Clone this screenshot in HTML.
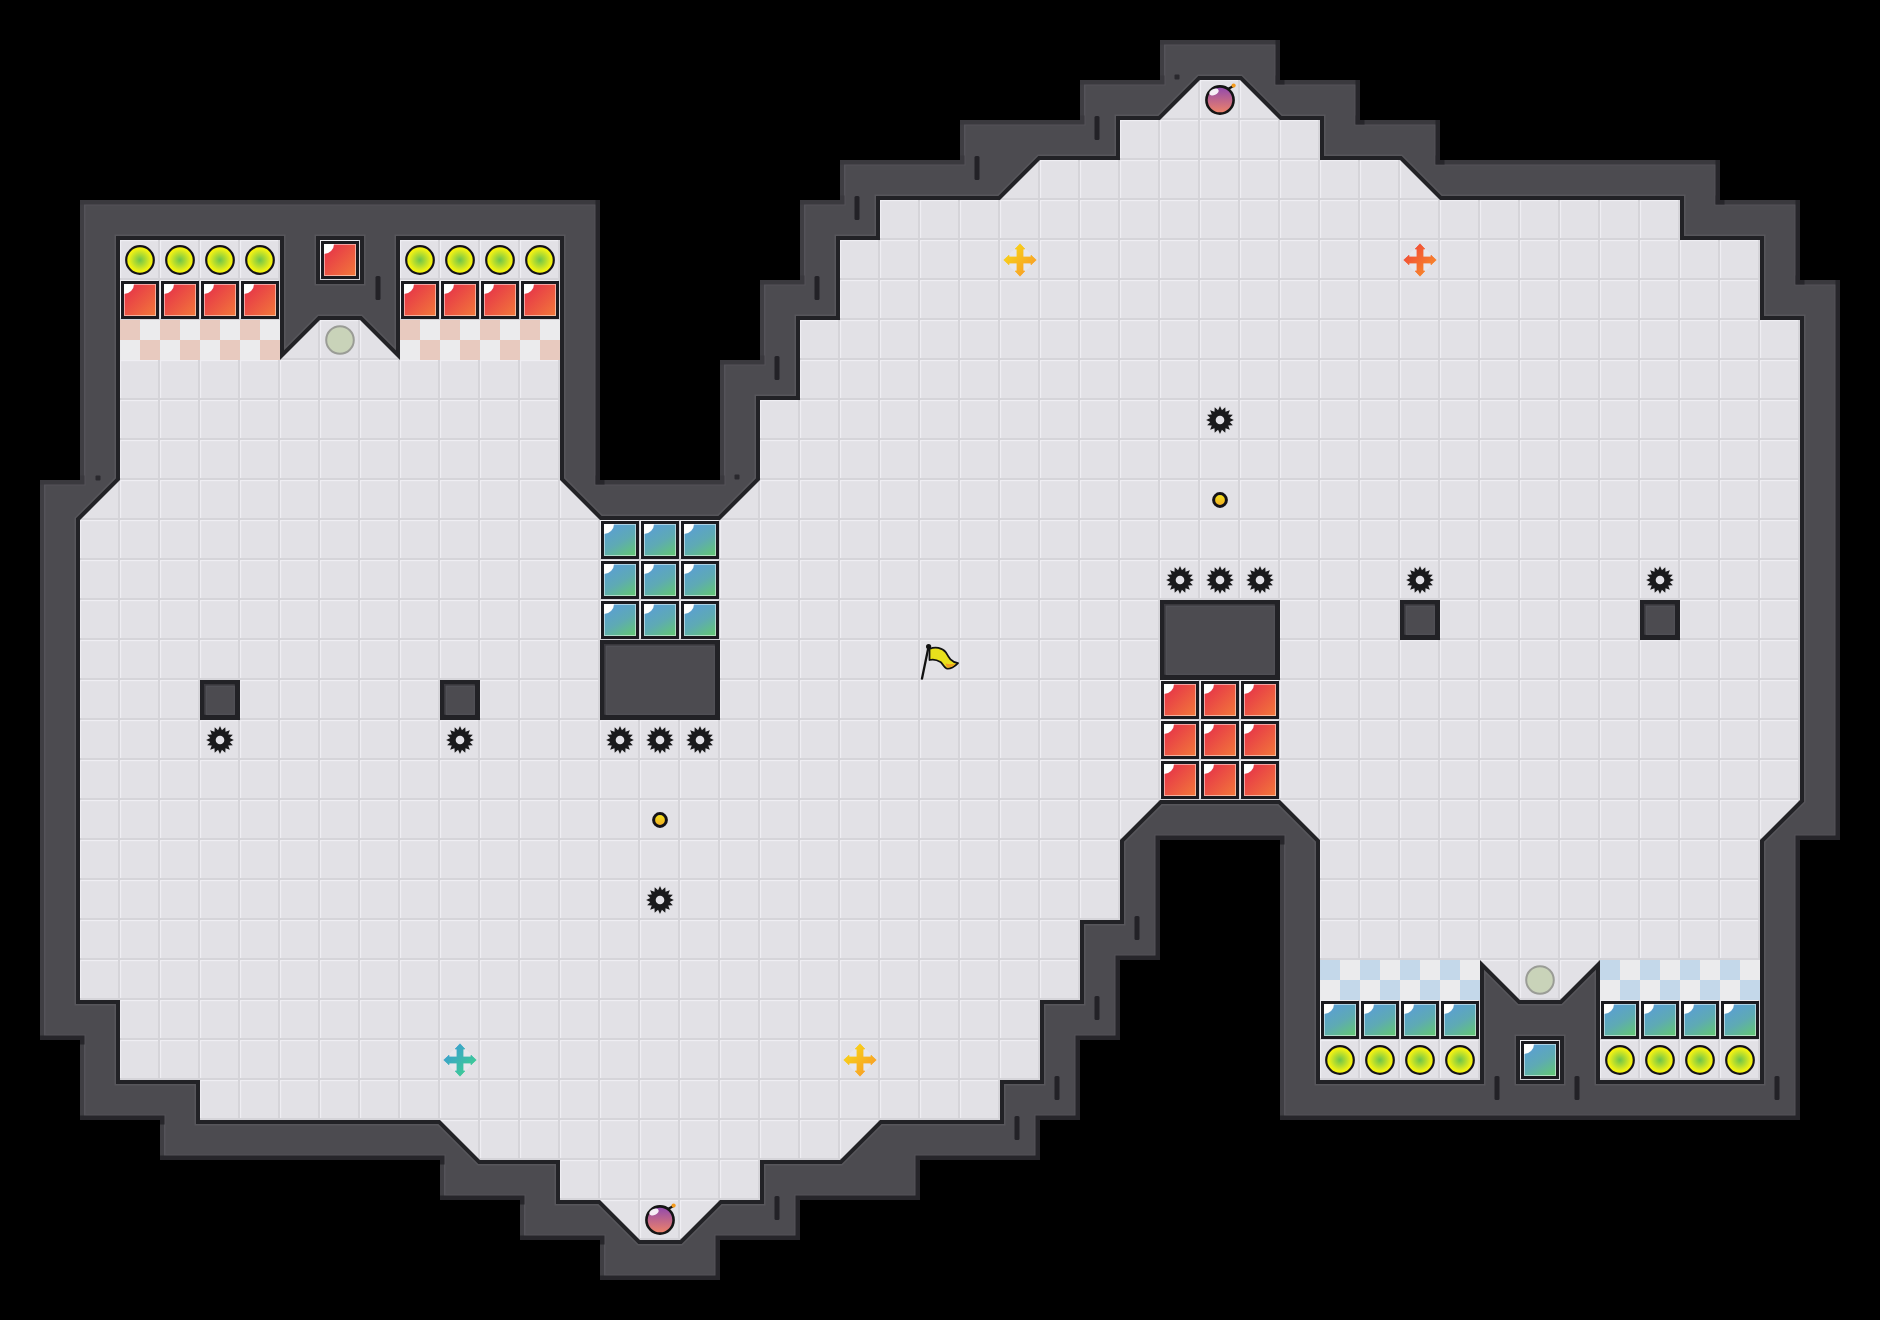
<!DOCTYPE html>
<html><head><meta charset="utf-8"><style>
html,body{margin:0;padding:0;background:#000;overflow:hidden}
svg{display:block}
</style></head><body>
<svg width="1880" height="1320" viewBox="0 0 1880 1320">
<defs>
<pattern id="tile" x="0" y="0" width="40" height="40" patternUnits="userSpaceOnUse">
<rect width="40" height="40" fill="#e2e1e6"/>
<rect x="0" y="0" width="40" height="1.2" fill="#efeef3"/>
<rect x="0" y="0" width="1.2" height="40" fill="#efeef3"/>
<rect x="0" y="38" width="40" height="2" fill="#d5d4d9"/>
<rect x="38" y="0" width="2" height="40" fill="#d5d4d9"/>
</pattern>
<clipPath id="wallclip"><path d="M80,200 L600,200 L600,480 L720,480 L720,360 L760,360 L760,280 L800,280 L800,200 L840,200 L840,160 L960,160 L960,120 L1080,120 L1080,80 L1160,80 L1160,40 L1280,40 L1280,80 L1360,80 L1360,120 L1440,120 L1440,160 L1720,160 L1720,200 L1800,200 L1800,280 L1840,280 L1840,840 L1800,840 L1800,1120 L1280,1120 L1280,840 L1160,840 L1160,960 L1120,960 L1120,1040 L1080,1040 L1080,1120 L1040,1120 L1040,1160 L920,1160 L920,1200 L800,1200 L800,1240 L720,1240 L720,1280 L600,1280 L600,1240 L520,1240 L520,1200 L440,1200 L440,1160 L160,1160 L160,1120 L80,1120 L80,1040 L40,1040 L40,480 L80,480 Z"/></clipPath>
<linearGradient id="gred" x1="0" y1="0" x2="1" y2="1">
<stop offset="0" stop-color="#e52c4a"/><stop offset="1" stop-color="#f2793a"/>
</linearGradient>
<linearGradient id="gblue" x1="0.2" y1="0" x2="0.8" y2="1">
<stop offset="0" stop-color="#5a9ed6"/><stop offset="0.55" stop-color="#5eaab4"/><stop offset="1" stop-color="#62c47a"/>
</linearGradient>
<radialGradient id="gball" cx="0.5" cy="0.5" r="0.5">
<stop offset="0" stop-color="#6cc44c"/><stop offset="0.8" stop-color="#eef016"/><stop offset="1" stop-color="#f6f600"/>
</radialGradient>
<linearGradient id="gbomb" x1="0" y1="0" x2="0" y2="1">
<stop offset="0" stop-color="#8f48b0"/><stop offset="1" stop-color="#f08466"/>
</linearGradient>
<linearGradient id="gcoin" x1="0" y1="0" x2="0" y2="1">
<stop offset="0" stop-color="#f2e51a"/><stop offset="1" stop-color="#f2a828"/>
</linearGradient>
<linearGradient id="gyel" x1="0" y1="0" x2="1" y2="1">
<stop offset="0" stop-color="#f8d81a"/><stop offset="1" stop-color="#f89a1c"/>
</linearGradient>
<linearGradient id="gorg" x1="0" y1="0" x2="1" y2="1">
<stop offset="0" stop-color="#ec5a48"/><stop offset="1" stop-color="#f68a2a"/>
</linearGradient>
<linearGradient id="gteal" x1="0" y1="0" x2="1" y2="1">
<stop offset="0" stop-color="#3a9ad8"/><stop offset="1" stop-color="#40d08a"/>
</linearGradient>
</defs>
<rect width="1880" height="1320" fill="#000"/>
<path d="M80,200 L600,200 L600,480 L720,480 L720,360 L760,360 L760,280 L800,280 L800,200 L840,200 L840,160 L960,160 L960,120 L1080,120 L1080,80 L1160,80 L1160,40 L1280,40 L1280,80 L1360,80 L1360,120 L1440,120 L1440,160 L1720,160 L1720,200 L1800,200 L1800,280 L1840,280 L1840,840 L1800,840 L1800,1120 L1280,1120 L1280,840 L1160,840 L1160,960 L1120,960 L1120,1040 L1080,1040 L1080,1120 L1040,1120 L1040,1160 L920,1160 L920,1200 L800,1200 L800,1240 L720,1240 L720,1280 L600,1280 L600,1240 L520,1240 L520,1200 L440,1200 L440,1160 L160,1160 L160,1120 L80,1120 L80,1040 L40,1040 L40,480 L80,480 Z" fill="#4c4b50"/>
<g clip-path="url(#wallclip)">
<path d="M80,200 L600,200 L600,480 L720,480 L720,360 L760,360 L760,280 L800,280 L800,200 L840,200 L840,160 L960,160 L960,120 L1080,120 L1080,80 L1160,80 L1160,40 L1280,40 L1280,80 L1360,80 L1360,120 L1440,120 L1440,160 L1720,160 L1720,200 L1800,200 L1800,280 L1840,280 L1840,840 L1800,840 L1800,1120 L1280,1120 L1280,840 L1160,840 L1160,960 L1120,960 L1120,1040 L1080,1040 L1080,1120 L1040,1120 L1040,1160 L920,1160 L920,1200 L800,1200 L800,1240 L720,1240 L720,1280 L600,1280 L600,1240 L520,1240 L520,1200 L440,1200 L440,1160 L160,1160 L160,1120 L80,1120 L80,1040 L40,1040 L40,480 L80,480 Z" fill="none" stroke="#545359" stroke-width="11"/>

<path d="M720,480 L720,360 M760,360 L760,280 M800,280 L800,200 M840,200 L840,160 M960,160 L960,120 M1080,120 L1080,80 M1160,80 L1160,40 M1280,1120 L1280,840 M600,1280 L600,1240 M520,1240 L520,1200 M440,1200 L440,1160 M160,1160 L160,1120 M80,1120 L80,1040 M40,1040 L40,480 M80,480 L80,200" fill="none" stroke="#3f3e43" stroke-width="8" stroke-linecap="square"/>
<path d="M80,200 L600,200 M600,480 L720,480 M720,360 L760,360 M760,280 L800,280 M800,200 L840,200 M840,160 L960,160 M960,120 L1080,120 M1080,80 L1160,80 M1160,40 L1280,40 M1280,80 L1360,80 M1360,120 L1440,120 M1440,160 L1720,160 M1720,200 L1800,200 M1800,280 L1840,280 M40,480 L80,480" fill="none" stroke="#3a393e" stroke-width="9" stroke-linecap="square"/>
<path d="M600,200 L600,480 M1280,40 L1280,80 M1360,80 L1360,120 M1440,120 L1440,160 M1720,160 L1720,200 M1800,200 L1800,280 M1840,280 L1840,840 M1840,840 L1800,840 M1800,840 L1800,1120 M1800,1120 L1280,1120 M1280,840 L1160,840 M1160,840 L1160,960 M1160,960 L1120,960 M1120,960 L1120,1040 M1120,1040 L1080,1040 M1080,1040 L1080,1120 M1080,1120 L1040,1120 M1040,1120 L1040,1160 M1040,1160 L920,1160 M920,1160 L920,1200 M920,1200 L800,1200 M800,1200 L800,1240 M800,1240 L720,1240 M720,1240 L720,1280 M720,1280 L600,1280 M600,1240 L520,1240 M520,1200 L440,1200 M440,1160 L160,1160 M160,1120 L80,1120 M80,1040 L40,1040" fill="none" stroke="#27262b" stroke-width="9" stroke-linecap="square"/>
</g>
<path d="M120,240 L280,240 L280,360 L320,320 L360,320 L400,360 L400,240 L560,240 L560,480 L600,520 L720,520 L760,480 L760,400 L800,400 L800,320 L840,320 L840,240 L880,240 L880,200 L1000,200 L1040,160 L1120,160 L1120,120 L1160,120 L1200,80 L1240,80 L1280,120 L1320,120 L1320,160 L1400,160 L1440,200 L1680,200 L1680,240 L1760,240 L1760,320 L1800,320 L1800,800 L1760,840 L1760,1080 L1600,1080 L1600,960 L1560,1000 L1520,1000 L1480,960 L1480,1080 L1320,1080 L1320,840 L1280,800 L1160,800 L1120,840 L1120,920 L1080,920 L1080,1000 L1040,1000 L1040,1080 L1000,1080 L1000,1120 L880,1120 L840,1160 L760,1160 L760,1200 L720,1200 L680,1240 L640,1240 L600,1200 L560,1200 L560,1160 L480,1160 L440,1120 L200,1120 L200,1080 L120,1080 L120,1000 L80,1000 L80,520 L120,480 Z M320,240 L360,240 L360,280 L320,280 Z M1520,1040 L1560,1040 L1560,1080 L1520,1080 Z M200,680 L240,680 L240,720 L200,720 Z M440,680 L480,680 L480,720 L440,720 Z M600,640 L720,640 L720,720 L600,720 Z M1160,600 L1280,600 L1280,680 L1160,680 Z M1400,600 L1440,600 L1440,640 L1400,640 Z M1640,600 L1680,600 L1680,640 L1640,640 Z" fill="none" stroke="#57565b" stroke-width="11" stroke-linejoin="miter"/>
<path d="M120,240 L280,240 L280,360 L320,320 L360,320 L400,360 L400,240 L560,240 L560,480 L600,520 L720,520 L760,480 L760,400 L800,400 L800,320 L840,320 L840,240 L880,240 L880,200 L1000,200 L1040,160 L1120,160 L1120,120 L1160,120 L1200,80 L1240,80 L1280,120 L1320,120 L1320,160 L1400,160 L1440,200 L1680,200 L1680,240 L1760,240 L1760,320 L1800,320 L1800,800 L1760,840 L1760,1080 L1600,1080 L1600,960 L1560,1000 L1520,1000 L1480,960 L1480,1080 L1320,1080 L1320,840 L1280,800 L1160,800 L1120,840 L1120,920 L1080,920 L1080,1000 L1040,1000 L1040,1080 L1000,1080 L1000,1120 L880,1120 L840,1160 L760,1160 L760,1200 L720,1200 L680,1240 L640,1240 L600,1200 L560,1200 L560,1160 L480,1160 L440,1120 L200,1120 L200,1080 L120,1080 L120,1000 L80,1000 L80,520 L120,480 Z M320,240 L360,240 L360,280 L320,280 Z M1520,1040 L1560,1040 L1560,1080 L1520,1080 Z M200,680 L240,680 L240,720 L200,720 Z M440,680 L480,680 L480,720 L440,720 Z M600,640 L720,640 L720,720 L600,720 Z M1160,600 L1280,600 L1280,680 L1160,680 Z M1400,600 L1440,600 L1440,640 L1400,640 Z M1640,600 L1680,600 L1680,640 L1640,640 Z" fill="none" stroke="#222226" stroke-width="8" stroke-linejoin="miter"/>
<path d="M120,240 L280,240 L280,360 L320,320 L360,320 L400,360 L400,240 L560,240 L560,480 L600,520 L720,520 L760,480 L760,400 L800,400 L800,320 L840,320 L840,240 L880,240 L880,200 L1000,200 L1040,160 L1120,160 L1120,120 L1160,120 L1200,80 L1240,80 L1280,120 L1320,120 L1320,160 L1400,160 L1440,200 L1680,200 L1680,240 L1760,240 L1760,320 L1800,320 L1800,800 L1760,840 L1760,1080 L1600,1080 L1600,960 L1560,1000 L1520,1000 L1480,960 L1480,1080 L1320,1080 L1320,840 L1280,800 L1160,800 L1120,840 L1120,920 L1080,920 L1080,1000 L1040,1000 L1040,1080 L1000,1080 L1000,1120 L880,1120 L840,1160 L760,1160 L760,1200 L720,1200 L680,1240 L640,1240 L600,1200 L560,1200 L560,1160 L480,1160 L440,1120 L200,1120 L200,1080 L120,1080 L120,1000 L80,1000 L80,520 L120,480 Z M320,240 L360,240 L360,280 L320,280 Z M1520,1040 L1560,1040 L1560,1080 L1520,1080 Z M200,680 L240,680 L240,720 L200,720 Z M440,680 L480,680 L480,720 L440,720 Z M600,640 L720,640 L720,720 L600,720 Z M1160,600 L1280,600 L1280,680 L1160,680 Z M1400,600 L1440,600 L1440,640 L1400,640 Z M1640,600 L1680,600 L1680,640 L1640,640 Z" fill="url(#tile)" fill-rule="evenodd"/>
<rect x="204" y="684" width="32" height="1.8" fill="#38373c"/>
<rect x="204" y="684" width="1.8" height="32" fill="#38373c"/>
<rect x="234.8" y="684" width="1.2" height="32" fill="#222126"/>
<rect x="204" y="714.8" width="32" height="1.2" fill="#222126"/>
<rect x="206.3" y="686.3" width="28" height="28" fill="none" stroke="#525157" stroke-width="1.2"/>
<rect x="444" y="684" width="32" height="1.8" fill="#38373c"/>
<rect x="444" y="684" width="1.8" height="32" fill="#38373c"/>
<rect x="474.8" y="684" width="1.2" height="32" fill="#222126"/>
<rect x="444" y="714.8" width="32" height="1.2" fill="#222126"/>
<rect x="446.3" y="686.3" width="28" height="28" fill="none" stroke="#525157" stroke-width="1.2"/>
<rect x="604" y="644" width="112" height="1.8" fill="#38373c"/>
<rect x="604" y="644" width="1.8" height="72" fill="#38373c"/>
<rect x="714.8" y="644" width="1.2" height="72" fill="#222126"/>
<rect x="604" y="714.8" width="112" height="1.2" fill="#222126"/>
<rect x="606.3" y="646.3" width="108" height="68" fill="none" stroke="#525157" stroke-width="1.2"/>
<rect x="1164" y="604" width="112" height="1.8" fill="#38373c"/>
<rect x="1164" y="604" width="1.8" height="72" fill="#38373c"/>
<rect x="1274.8" y="604" width="1.2" height="72" fill="#222126"/>
<rect x="1164" y="674.8" width="112" height="1.2" fill="#222126"/>
<rect x="1166.3" y="606.3" width="108" height="68" fill="none" stroke="#525157" stroke-width="1.2"/>
<rect x="1404" y="604" width="32" height="1.8" fill="#38373c"/>
<rect x="1404" y="604" width="1.8" height="32" fill="#38373c"/>
<rect x="1434.8" y="604" width="1.2" height="32" fill="#222126"/>
<rect x="1404" y="634.8" width="32" height="1.2" fill="#222126"/>
<rect x="1406.3" y="606.3" width="28" height="28" fill="none" stroke="#525157" stroke-width="1.2"/>
<rect x="1644" y="604" width="32" height="1.8" fill="#38373c"/>
<rect x="1644" y="604" width="1.8" height="32" fill="#38373c"/>
<rect x="1674.8" y="604" width="1.2" height="32" fill="#222126"/>
<rect x="1644" y="634.8" width="32" height="1.2" fill="#222126"/>
<rect x="1646.3" y="606.3" width="28" height="28" fill="none" stroke="#525157" stroke-width="1.2"/>
<rect x="120" y="320" width="20" height="20" fill="#e8cabf"/><rect x="120" y="340" width="20" height="20" fill="#ebebed"/><rect x="140" y="320" width="20" height="20" fill="#ebebed"/><rect x="140" y="340" width="20" height="20" fill="#e8cabf"/><rect x="160" y="320" width="20" height="20" fill="#e8cabf"/><rect x="160" y="340" width="20" height="20" fill="#ebebed"/><rect x="180" y="320" width="20" height="20" fill="#ebebed"/><rect x="180" y="340" width="20" height="20" fill="#e8cabf"/><rect x="200" y="320" width="20" height="20" fill="#e8cabf"/><rect x="200" y="340" width="20" height="20" fill="#ebebed"/><rect x="220" y="320" width="20" height="20" fill="#ebebed"/><rect x="220" y="340" width="20" height="20" fill="#e8cabf"/><rect x="240" y="320" width="20" height="20" fill="#e8cabf"/><rect x="240" y="340" width="20" height="20" fill="#ebebed"/><rect x="260" y="320" width="20" height="20" fill="#ebebed"/><rect x="260" y="340" width="20" height="20" fill="#e8cabf"/>
<rect x="400" y="320" width="20" height="20" fill="#e8cabf"/><rect x="400" y="340" width="20" height="20" fill="#ebebed"/><rect x="420" y="320" width="20" height="20" fill="#ebebed"/><rect x="420" y="340" width="20" height="20" fill="#e8cabf"/><rect x="440" y="320" width="20" height="20" fill="#e8cabf"/><rect x="440" y="340" width="20" height="20" fill="#ebebed"/><rect x="460" y="320" width="20" height="20" fill="#ebebed"/><rect x="460" y="340" width="20" height="20" fill="#e8cabf"/><rect x="480" y="320" width="20" height="20" fill="#e8cabf"/><rect x="480" y="340" width="20" height="20" fill="#ebebed"/><rect x="500" y="320" width="20" height="20" fill="#ebebed"/><rect x="500" y="340" width="20" height="20" fill="#e8cabf"/><rect x="520" y="320" width="20" height="20" fill="#e8cabf"/><rect x="520" y="340" width="20" height="20" fill="#ebebed"/><rect x="540" y="320" width="20" height="20" fill="#ebebed"/><rect x="540" y="340" width="20" height="20" fill="#e8cabf"/>
<rect x="1320" y="960" width="20" height="20" fill="#c4d8ea"/><rect x="1320" y="980" width="20" height="20" fill="#ebebed"/><rect x="1340" y="960" width="20" height="20" fill="#ebebed"/><rect x="1340" y="980" width="20" height="20" fill="#c4d8ea"/><rect x="1360" y="960" width="20" height="20" fill="#c4d8ea"/><rect x="1360" y="980" width="20" height="20" fill="#ebebed"/><rect x="1380" y="960" width="20" height="20" fill="#ebebed"/><rect x="1380" y="980" width="20" height="20" fill="#c4d8ea"/><rect x="1400" y="960" width="20" height="20" fill="#c4d8ea"/><rect x="1400" y="980" width="20" height="20" fill="#ebebed"/><rect x="1420" y="960" width="20" height="20" fill="#ebebed"/><rect x="1420" y="980" width="20" height="20" fill="#c4d8ea"/><rect x="1440" y="960" width="20" height="20" fill="#c4d8ea"/><rect x="1440" y="980" width="20" height="20" fill="#ebebed"/><rect x="1460" y="960" width="20" height="20" fill="#ebebed"/><rect x="1460" y="980" width="20" height="20" fill="#c4d8ea"/>
<rect x="1600" y="960" width="20" height="20" fill="#c4d8ea"/><rect x="1600" y="980" width="20" height="20" fill="#ebebed"/><rect x="1620" y="960" width="20" height="20" fill="#ebebed"/><rect x="1620" y="980" width="20" height="20" fill="#c4d8ea"/><rect x="1640" y="960" width="20" height="20" fill="#c4d8ea"/><rect x="1640" y="980" width="20" height="20" fill="#ebebed"/><rect x="1660" y="960" width="20" height="20" fill="#ebebed"/><rect x="1660" y="980" width="20" height="20" fill="#c4d8ea"/><rect x="1680" y="960" width="20" height="20" fill="#c4d8ea"/><rect x="1680" y="980" width="20" height="20" fill="#ebebed"/><rect x="1700" y="960" width="20" height="20" fill="#ebebed"/><rect x="1700" y="980" width="20" height="20" fill="#c4d8ea"/><rect x="1720" y="960" width="20" height="20" fill="#c4d8ea"/><rect x="1720" y="980" width="20" height="20" fill="#ebebed"/><rect x="1740" y="960" width="20" height="20" fill="#ebebed"/><rect x="1740" y="980" width="20" height="20" fill="#c4d8ea"/>
<rect x="375.5" y="276" width="5" height="24" rx="1.5" fill="#232227"/>
<rect x="854.5" y="196" width="5" height="24" rx="1.5" fill="#232227"/>
<rect x="814.5" y="276" width="5" height="24" rx="1.5" fill="#232227"/>
<rect x="774.5" y="356" width="5" height="24" rx="1.5" fill="#232227"/>
<rect x="974.5" y="156" width="5" height="24" rx="1.5" fill="#232227"/>
<rect x="1094.5" y="116" width="5" height="24" rx="1.5" fill="#232227"/>
<rect x="1134.5" y="916" width="5" height="24" rx="1.5" fill="#232227"/>
<rect x="1094.5" y="996" width="5" height="24" rx="1.5" fill="#232227"/>
<rect x="1054.5" y="1076" width="5" height="24" rx="1.5" fill="#232227"/>
<rect x="1014.5" y="1116" width="5" height="24" rx="1.5" fill="#232227"/>
<rect x="774.5" y="1196" width="5" height="24" rx="1.5" fill="#232227"/>
<rect x="1494.5" y="1076" width="5" height="24" rx="1.5" fill="#232227"/>
<rect x="1574.5" y="1076" width="5" height="24" rx="1.5" fill="#232227"/>
<rect x="1774.5" y="1076" width="5" height="24" rx="1.5" fill="#232227"/>
<rect x="95.5" y="475.5" width="5" height="5" rx="1" fill="#2a292e"/>
<rect x="734.5" y="474.5" width="5" height="5" rx="1" fill="#2a292e"/>
<rect x="1174.5" y="74.5" width="5" height="5" rx="1" fill="#2a292e"/>
<rect x="121" y="281" width="38" height="38" fill="#1b1a1f"/><rect x="124" y="284" width="32" height="32" fill="url(#gred)"/><path d="M124,284 h10 a10,10 0 0 1 -10,10 z" fill="#fff"/><rect x="124.5" y="284.5" width="31" height="31" fill="none" stroke="#fff" stroke-opacity="0.5" stroke-width="1"/>
<rect x="161" y="281" width="38" height="38" fill="#1b1a1f"/><rect x="164" y="284" width="32" height="32" fill="url(#gred)"/><path d="M164,284 h10 a10,10 0 0 1 -10,10 z" fill="#fff"/><rect x="164.5" y="284.5" width="31" height="31" fill="none" stroke="#fff" stroke-opacity="0.5" stroke-width="1"/>
<rect x="201" y="281" width="38" height="38" fill="#1b1a1f"/><rect x="204" y="284" width="32" height="32" fill="url(#gred)"/><path d="M204,284 h10 a10,10 0 0 1 -10,10 z" fill="#fff"/><rect x="204.5" y="284.5" width="31" height="31" fill="none" stroke="#fff" stroke-opacity="0.5" stroke-width="1"/>
<rect x="241" y="281" width="38" height="38" fill="#1b1a1f"/><rect x="244" y="284" width="32" height="32" fill="url(#gred)"/><path d="M244,284 h10 a10,10 0 0 1 -10,10 z" fill="#fff"/><rect x="244.5" y="284.5" width="31" height="31" fill="none" stroke="#fff" stroke-opacity="0.5" stroke-width="1"/>
<rect x="401" y="281" width="38" height="38" fill="#1b1a1f"/><rect x="404" y="284" width="32" height="32" fill="url(#gred)"/><path d="M404,284 h10 a10,10 0 0 1 -10,10 z" fill="#fff"/><rect x="404.5" y="284.5" width="31" height="31" fill="none" stroke="#fff" stroke-opacity="0.5" stroke-width="1"/>
<rect x="441" y="281" width="38" height="38" fill="#1b1a1f"/><rect x="444" y="284" width="32" height="32" fill="url(#gred)"/><path d="M444,284 h10 a10,10 0 0 1 -10,10 z" fill="#fff"/><rect x="444.5" y="284.5" width="31" height="31" fill="none" stroke="#fff" stroke-opacity="0.5" stroke-width="1"/>
<rect x="481" y="281" width="38" height="38" fill="#1b1a1f"/><rect x="484" y="284" width="32" height="32" fill="url(#gred)"/><path d="M484,284 h10 a10,10 0 0 1 -10,10 z" fill="#fff"/><rect x="484.5" y="284.5" width="31" height="31" fill="none" stroke="#fff" stroke-opacity="0.5" stroke-width="1"/>
<rect x="521" y="281" width="38" height="38" fill="#1b1a1f"/><rect x="524" y="284" width="32" height="32" fill="url(#gred)"/><path d="M524,284 h10 a10,10 0 0 1 -10,10 z" fill="#fff"/><rect x="524.5" y="284.5" width="31" height="31" fill="none" stroke="#fff" stroke-opacity="0.5" stroke-width="1"/>
<rect x="321" y="241" width="38" height="38" fill="#1b1a1f"/><rect x="324" y="244" width="32" height="32" fill="url(#gred)"/><path d="M324,244 h10 a10,10 0 0 1 -10,10 z" fill="#fff"/><rect x="324.5" y="244.5" width="31" height="31" fill="none" stroke="#fff" stroke-opacity="0.5" stroke-width="1"/>
<rect x="1161" y="681" width="38" height="38" fill="#1b1a1f"/><rect x="1164" y="684" width="32" height="32" fill="url(#gred)"/><path d="M1164,684 h10 a10,10 0 0 1 -10,10 z" fill="#fff"/><rect x="1164.5" y="684.5" width="31" height="31" fill="none" stroke="#fff" stroke-opacity="0.5" stroke-width="1"/>
<rect x="1161" y="721" width="38" height="38" fill="#1b1a1f"/><rect x="1164" y="724" width="32" height="32" fill="url(#gred)"/><path d="M1164,724 h10 a10,10 0 0 1 -10,10 z" fill="#fff"/><rect x="1164.5" y="724.5" width="31" height="31" fill="none" stroke="#fff" stroke-opacity="0.5" stroke-width="1"/>
<rect x="1161" y="761" width="38" height="38" fill="#1b1a1f"/><rect x="1164" y="764" width="32" height="32" fill="url(#gred)"/><path d="M1164,764 h10 a10,10 0 0 1 -10,10 z" fill="#fff"/><rect x="1164.5" y="764.5" width="31" height="31" fill="none" stroke="#fff" stroke-opacity="0.5" stroke-width="1"/>
<rect x="1201" y="681" width="38" height="38" fill="#1b1a1f"/><rect x="1204" y="684" width="32" height="32" fill="url(#gred)"/><path d="M1204,684 h10 a10,10 0 0 1 -10,10 z" fill="#fff"/><rect x="1204.5" y="684.5" width="31" height="31" fill="none" stroke="#fff" stroke-opacity="0.5" stroke-width="1"/>
<rect x="1201" y="721" width="38" height="38" fill="#1b1a1f"/><rect x="1204" y="724" width="32" height="32" fill="url(#gred)"/><path d="M1204,724 h10 a10,10 0 0 1 -10,10 z" fill="#fff"/><rect x="1204.5" y="724.5" width="31" height="31" fill="none" stroke="#fff" stroke-opacity="0.5" stroke-width="1"/>
<rect x="1201" y="761" width="38" height="38" fill="#1b1a1f"/><rect x="1204" y="764" width="32" height="32" fill="url(#gred)"/><path d="M1204,764 h10 a10,10 0 0 1 -10,10 z" fill="#fff"/><rect x="1204.5" y="764.5" width="31" height="31" fill="none" stroke="#fff" stroke-opacity="0.5" stroke-width="1"/>
<rect x="1241" y="681" width="38" height="38" fill="#1b1a1f"/><rect x="1244" y="684" width="32" height="32" fill="url(#gred)"/><path d="M1244,684 h10 a10,10 0 0 1 -10,10 z" fill="#fff"/><rect x="1244.5" y="684.5" width="31" height="31" fill="none" stroke="#fff" stroke-opacity="0.5" stroke-width="1"/>
<rect x="1241" y="721" width="38" height="38" fill="#1b1a1f"/><rect x="1244" y="724" width="32" height="32" fill="url(#gred)"/><path d="M1244,724 h10 a10,10 0 0 1 -10,10 z" fill="#fff"/><rect x="1244.5" y="724.5" width="31" height="31" fill="none" stroke="#fff" stroke-opacity="0.5" stroke-width="1"/>
<rect x="1241" y="761" width="38" height="38" fill="#1b1a1f"/><rect x="1244" y="764" width="32" height="32" fill="url(#gred)"/><path d="M1244,764 h10 a10,10 0 0 1 -10,10 z" fill="#fff"/><rect x="1244.5" y="764.5" width="31" height="31" fill="none" stroke="#fff" stroke-opacity="0.5" stroke-width="1"/>
<rect x="601" y="521" width="38" height="38" fill="#1b1a1f"/><rect x="604" y="524" width="32" height="32" fill="url(#gblue)"/><path d="M604,524 h10 a10,10 0 0 1 -10,10 z" fill="#fff"/><rect x="604.5" y="524.5" width="31" height="31" fill="none" stroke="#fff" stroke-opacity="0.5" stroke-width="1"/>
<rect x="601" y="561" width="38" height="38" fill="#1b1a1f"/><rect x="604" y="564" width="32" height="32" fill="url(#gblue)"/><path d="M604,564 h10 a10,10 0 0 1 -10,10 z" fill="#fff"/><rect x="604.5" y="564.5" width="31" height="31" fill="none" stroke="#fff" stroke-opacity="0.5" stroke-width="1"/>
<rect x="601" y="601" width="38" height="38" fill="#1b1a1f"/><rect x="604" y="604" width="32" height="32" fill="url(#gblue)"/><path d="M604,604 h10 a10,10 0 0 1 -10,10 z" fill="#fff"/><rect x="604.5" y="604.5" width="31" height="31" fill="none" stroke="#fff" stroke-opacity="0.5" stroke-width="1"/>
<rect x="641" y="521" width="38" height="38" fill="#1b1a1f"/><rect x="644" y="524" width="32" height="32" fill="url(#gblue)"/><path d="M644,524 h10 a10,10 0 0 1 -10,10 z" fill="#fff"/><rect x="644.5" y="524.5" width="31" height="31" fill="none" stroke="#fff" stroke-opacity="0.5" stroke-width="1"/>
<rect x="641" y="561" width="38" height="38" fill="#1b1a1f"/><rect x="644" y="564" width="32" height="32" fill="url(#gblue)"/><path d="M644,564 h10 a10,10 0 0 1 -10,10 z" fill="#fff"/><rect x="644.5" y="564.5" width="31" height="31" fill="none" stroke="#fff" stroke-opacity="0.5" stroke-width="1"/>
<rect x="641" y="601" width="38" height="38" fill="#1b1a1f"/><rect x="644" y="604" width="32" height="32" fill="url(#gblue)"/><path d="M644,604 h10 a10,10 0 0 1 -10,10 z" fill="#fff"/><rect x="644.5" y="604.5" width="31" height="31" fill="none" stroke="#fff" stroke-opacity="0.5" stroke-width="1"/>
<rect x="681" y="521" width="38" height="38" fill="#1b1a1f"/><rect x="684" y="524" width="32" height="32" fill="url(#gblue)"/><path d="M684,524 h10 a10,10 0 0 1 -10,10 z" fill="#fff"/><rect x="684.5" y="524.5" width="31" height="31" fill="none" stroke="#fff" stroke-opacity="0.5" stroke-width="1"/>
<rect x="681" y="561" width="38" height="38" fill="#1b1a1f"/><rect x="684" y="564" width="32" height="32" fill="url(#gblue)"/><path d="M684,564 h10 a10,10 0 0 1 -10,10 z" fill="#fff"/><rect x="684.5" y="564.5" width="31" height="31" fill="none" stroke="#fff" stroke-opacity="0.5" stroke-width="1"/>
<rect x="681" y="601" width="38" height="38" fill="#1b1a1f"/><rect x="684" y="604" width="32" height="32" fill="url(#gblue)"/><path d="M684,604 h10 a10,10 0 0 1 -10,10 z" fill="#fff"/><rect x="684.5" y="604.5" width="31" height="31" fill="none" stroke="#fff" stroke-opacity="0.5" stroke-width="1"/>
<rect x="1321" y="1001" width="38" height="38" fill="#1b1a1f"/><rect x="1324" y="1004" width="32" height="32" fill="url(#gblue)"/><path d="M1324,1004 h10 a10,10 0 0 1 -10,10 z" fill="#fff"/><rect x="1324.5" y="1004.5" width="31" height="31" fill="none" stroke="#fff" stroke-opacity="0.5" stroke-width="1"/>
<rect x="1361" y="1001" width="38" height="38" fill="#1b1a1f"/><rect x="1364" y="1004" width="32" height="32" fill="url(#gblue)"/><path d="M1364,1004 h10 a10,10 0 0 1 -10,10 z" fill="#fff"/><rect x="1364.5" y="1004.5" width="31" height="31" fill="none" stroke="#fff" stroke-opacity="0.5" stroke-width="1"/>
<rect x="1401" y="1001" width="38" height="38" fill="#1b1a1f"/><rect x="1404" y="1004" width="32" height="32" fill="url(#gblue)"/><path d="M1404,1004 h10 a10,10 0 0 1 -10,10 z" fill="#fff"/><rect x="1404.5" y="1004.5" width="31" height="31" fill="none" stroke="#fff" stroke-opacity="0.5" stroke-width="1"/>
<rect x="1441" y="1001" width="38" height="38" fill="#1b1a1f"/><rect x="1444" y="1004" width="32" height="32" fill="url(#gblue)"/><path d="M1444,1004 h10 a10,10 0 0 1 -10,10 z" fill="#fff"/><rect x="1444.5" y="1004.5" width="31" height="31" fill="none" stroke="#fff" stroke-opacity="0.5" stroke-width="1"/>
<rect x="1601" y="1001" width="38" height="38" fill="#1b1a1f"/><rect x="1604" y="1004" width="32" height="32" fill="url(#gblue)"/><path d="M1604,1004 h10 a10,10 0 0 1 -10,10 z" fill="#fff"/><rect x="1604.5" y="1004.5" width="31" height="31" fill="none" stroke="#fff" stroke-opacity="0.5" stroke-width="1"/>
<rect x="1641" y="1001" width="38" height="38" fill="#1b1a1f"/><rect x="1644" y="1004" width="32" height="32" fill="url(#gblue)"/><path d="M1644,1004 h10 a10,10 0 0 1 -10,10 z" fill="#fff"/><rect x="1644.5" y="1004.5" width="31" height="31" fill="none" stroke="#fff" stroke-opacity="0.5" stroke-width="1"/>
<rect x="1681" y="1001" width="38" height="38" fill="#1b1a1f"/><rect x="1684" y="1004" width="32" height="32" fill="url(#gblue)"/><path d="M1684,1004 h10 a10,10 0 0 1 -10,10 z" fill="#fff"/><rect x="1684.5" y="1004.5" width="31" height="31" fill="none" stroke="#fff" stroke-opacity="0.5" stroke-width="1"/>
<rect x="1721" y="1001" width="38" height="38" fill="#1b1a1f"/><rect x="1724" y="1004" width="32" height="32" fill="url(#gblue)"/><path d="M1724,1004 h10 a10,10 0 0 1 -10,10 z" fill="#fff"/><rect x="1724.5" y="1004.5" width="31" height="31" fill="none" stroke="#fff" stroke-opacity="0.5" stroke-width="1"/>
<rect x="1521" y="1041" width="38" height="38" fill="#1b1a1f"/><rect x="1524" y="1044" width="32" height="32" fill="url(#gblue)"/><path d="M1524,1044 h10 a10,10 0 0 1 -10,10 z" fill="#fff"/><rect x="1524.5" y="1044.5" width="31" height="31" fill="none" stroke="#fff" stroke-opacity="0.5" stroke-width="1"/>
<circle cx="140" cy="260" r="13.8" fill="url(#gball)" stroke="#141218" stroke-width="2.2"/>
<circle cx="180" cy="260" r="13.8" fill="url(#gball)" stroke="#141218" stroke-width="2.2"/>
<circle cx="220" cy="260" r="13.8" fill="url(#gball)" stroke="#141218" stroke-width="2.2"/>
<circle cx="260" cy="260" r="13.8" fill="url(#gball)" stroke="#141218" stroke-width="2.2"/>
<circle cx="420" cy="260" r="13.8" fill="url(#gball)" stroke="#141218" stroke-width="2.2"/>
<circle cx="460" cy="260" r="13.8" fill="url(#gball)" stroke="#141218" stroke-width="2.2"/>
<circle cx="500" cy="260" r="13.8" fill="url(#gball)" stroke="#141218" stroke-width="2.2"/>
<circle cx="540" cy="260" r="13.8" fill="url(#gball)" stroke="#141218" stroke-width="2.2"/>
<circle cx="1340" cy="1060" r="13.8" fill="url(#gball)" stroke="#141218" stroke-width="2.2"/>
<circle cx="1380" cy="1060" r="13.8" fill="url(#gball)" stroke="#141218" stroke-width="2.2"/>
<circle cx="1420" cy="1060" r="13.8" fill="url(#gball)" stroke="#141218" stroke-width="2.2"/>
<circle cx="1460" cy="1060" r="13.8" fill="url(#gball)" stroke="#141218" stroke-width="2.2"/>
<circle cx="1620" cy="1060" r="13.8" fill="url(#gball)" stroke="#141218" stroke-width="2.2"/>
<circle cx="1660" cy="1060" r="13.8" fill="url(#gball)" stroke="#141218" stroke-width="2.2"/>
<circle cx="1700" cy="1060" r="13.8" fill="url(#gball)" stroke="#141218" stroke-width="2.2"/>
<circle cx="1740" cy="1060" r="13.8" fill="url(#gball)" stroke="#141218" stroke-width="2.2"/>
<circle cx="340" cy="340" r="13.8" fill="#c9d3b9" stroke="#9a9c96" stroke-width="2"/>
<circle cx="1540" cy="980" r="13.8" fill="#c9d3b9" stroke="#9a9c96" stroke-width="2"/>
<path d="M1220.00,406.10 L1221.93,410.29 L1225.32,407.16 L1225.50,411.77 L1229.83,410.17 L1228.23,414.50 L1232.84,414.68 L1229.71,418.07 L1233.90,420.00 L1229.71,421.93 L1232.84,425.32 L1228.23,425.50 L1229.83,429.83 L1225.50,428.23 L1225.32,432.84 L1221.93,429.71 L1220.00,433.90 L1218.07,429.71 L1214.68,432.84 L1214.50,428.23 L1210.17,429.83 L1211.77,425.50 L1207.16,425.32 L1210.29,421.93 L1206.10,420.00 L1210.29,418.07 L1207.16,414.68 L1211.77,414.50 L1210.17,410.17 L1214.50,411.77 L1214.68,407.16 L1218.07,410.29 Z" fill="#1a1a1c"/><circle cx="1220" cy="420" r="4.3" fill="#e2e1e6"/>
<path d="M1180.00,566.10 L1181.93,570.29 L1185.32,567.16 L1185.50,571.77 L1189.83,570.17 L1188.23,574.50 L1192.84,574.68 L1189.71,578.07 L1193.90,580.00 L1189.71,581.93 L1192.84,585.32 L1188.23,585.50 L1189.83,589.83 L1185.50,588.23 L1185.32,592.84 L1181.93,589.71 L1180.00,593.90 L1178.07,589.71 L1174.68,592.84 L1174.50,588.23 L1170.17,589.83 L1171.77,585.50 L1167.16,585.32 L1170.29,581.93 L1166.10,580.00 L1170.29,578.07 L1167.16,574.68 L1171.77,574.50 L1170.17,570.17 L1174.50,571.77 L1174.68,567.16 L1178.07,570.29 Z" fill="#1a1a1c"/><circle cx="1180" cy="580" r="4.3" fill="#e2e1e6"/>
<path d="M1220.00,566.10 L1221.93,570.29 L1225.32,567.16 L1225.50,571.77 L1229.83,570.17 L1228.23,574.50 L1232.84,574.68 L1229.71,578.07 L1233.90,580.00 L1229.71,581.93 L1232.84,585.32 L1228.23,585.50 L1229.83,589.83 L1225.50,588.23 L1225.32,592.84 L1221.93,589.71 L1220.00,593.90 L1218.07,589.71 L1214.68,592.84 L1214.50,588.23 L1210.17,589.83 L1211.77,585.50 L1207.16,585.32 L1210.29,581.93 L1206.10,580.00 L1210.29,578.07 L1207.16,574.68 L1211.77,574.50 L1210.17,570.17 L1214.50,571.77 L1214.68,567.16 L1218.07,570.29 Z" fill="#1a1a1c"/><circle cx="1220" cy="580" r="4.3" fill="#e2e1e6"/>
<path d="M1260.00,566.10 L1261.93,570.29 L1265.32,567.16 L1265.50,571.77 L1269.83,570.17 L1268.23,574.50 L1272.84,574.68 L1269.71,578.07 L1273.90,580.00 L1269.71,581.93 L1272.84,585.32 L1268.23,585.50 L1269.83,589.83 L1265.50,588.23 L1265.32,592.84 L1261.93,589.71 L1260.00,593.90 L1258.07,589.71 L1254.68,592.84 L1254.50,588.23 L1250.17,589.83 L1251.77,585.50 L1247.16,585.32 L1250.29,581.93 L1246.10,580.00 L1250.29,578.07 L1247.16,574.68 L1251.77,574.50 L1250.17,570.17 L1254.50,571.77 L1254.68,567.16 L1258.07,570.29 Z" fill="#1a1a1c"/><circle cx="1260" cy="580" r="4.3" fill="#e2e1e6"/>
<path d="M1420.00,566.10 L1421.93,570.29 L1425.32,567.16 L1425.50,571.77 L1429.83,570.17 L1428.23,574.50 L1432.84,574.68 L1429.71,578.07 L1433.90,580.00 L1429.71,581.93 L1432.84,585.32 L1428.23,585.50 L1429.83,589.83 L1425.50,588.23 L1425.32,592.84 L1421.93,589.71 L1420.00,593.90 L1418.07,589.71 L1414.68,592.84 L1414.50,588.23 L1410.17,589.83 L1411.77,585.50 L1407.16,585.32 L1410.29,581.93 L1406.10,580.00 L1410.29,578.07 L1407.16,574.68 L1411.77,574.50 L1410.17,570.17 L1414.50,571.77 L1414.68,567.16 L1418.07,570.29 Z" fill="#1a1a1c"/><circle cx="1420" cy="580" r="4.3" fill="#e2e1e6"/>
<path d="M1660.00,566.10 L1661.93,570.29 L1665.32,567.16 L1665.50,571.77 L1669.83,570.17 L1668.23,574.50 L1672.84,574.68 L1669.71,578.07 L1673.90,580.00 L1669.71,581.93 L1672.84,585.32 L1668.23,585.50 L1669.83,589.83 L1665.50,588.23 L1665.32,592.84 L1661.93,589.71 L1660.00,593.90 L1658.07,589.71 L1654.68,592.84 L1654.50,588.23 L1650.17,589.83 L1651.77,585.50 L1647.16,585.32 L1650.29,581.93 L1646.10,580.00 L1650.29,578.07 L1647.16,574.68 L1651.77,574.50 L1650.17,570.17 L1654.50,571.77 L1654.68,567.16 L1658.07,570.29 Z" fill="#1a1a1c"/><circle cx="1660" cy="580" r="4.3" fill="#e2e1e6"/>
<path d="M220.00,726.10 L221.93,730.29 L225.32,727.16 L225.50,731.77 L229.83,730.17 L228.23,734.50 L232.84,734.68 L229.71,738.07 L233.90,740.00 L229.71,741.93 L232.84,745.32 L228.23,745.50 L229.83,749.83 L225.50,748.23 L225.32,752.84 L221.93,749.71 L220.00,753.90 L218.07,749.71 L214.68,752.84 L214.50,748.23 L210.17,749.83 L211.77,745.50 L207.16,745.32 L210.29,741.93 L206.10,740.00 L210.29,738.07 L207.16,734.68 L211.77,734.50 L210.17,730.17 L214.50,731.77 L214.68,727.16 L218.07,730.29 Z" fill="#1a1a1c"/><circle cx="220" cy="740" r="4.3" fill="#e2e1e6"/>
<path d="M460.00,726.10 L461.93,730.29 L465.32,727.16 L465.50,731.77 L469.83,730.17 L468.23,734.50 L472.84,734.68 L469.71,738.07 L473.90,740.00 L469.71,741.93 L472.84,745.32 L468.23,745.50 L469.83,749.83 L465.50,748.23 L465.32,752.84 L461.93,749.71 L460.00,753.90 L458.07,749.71 L454.68,752.84 L454.50,748.23 L450.17,749.83 L451.77,745.50 L447.16,745.32 L450.29,741.93 L446.10,740.00 L450.29,738.07 L447.16,734.68 L451.77,734.50 L450.17,730.17 L454.50,731.77 L454.68,727.16 L458.07,730.29 Z" fill="#1a1a1c"/><circle cx="460" cy="740" r="4.3" fill="#e2e1e6"/>
<path d="M620.00,726.10 L621.93,730.29 L625.32,727.16 L625.50,731.77 L629.83,730.17 L628.23,734.50 L632.84,734.68 L629.71,738.07 L633.90,740.00 L629.71,741.93 L632.84,745.32 L628.23,745.50 L629.83,749.83 L625.50,748.23 L625.32,752.84 L621.93,749.71 L620.00,753.90 L618.07,749.71 L614.68,752.84 L614.50,748.23 L610.17,749.83 L611.77,745.50 L607.16,745.32 L610.29,741.93 L606.10,740.00 L610.29,738.07 L607.16,734.68 L611.77,734.50 L610.17,730.17 L614.50,731.77 L614.68,727.16 L618.07,730.29 Z" fill="#1a1a1c"/><circle cx="620" cy="740" r="4.3" fill="#e2e1e6"/>
<path d="M660.00,726.10 L661.93,730.29 L665.32,727.16 L665.50,731.77 L669.83,730.17 L668.23,734.50 L672.84,734.68 L669.71,738.07 L673.90,740.00 L669.71,741.93 L672.84,745.32 L668.23,745.50 L669.83,749.83 L665.50,748.23 L665.32,752.84 L661.93,749.71 L660.00,753.90 L658.07,749.71 L654.68,752.84 L654.50,748.23 L650.17,749.83 L651.77,745.50 L647.16,745.32 L650.29,741.93 L646.10,740.00 L650.29,738.07 L647.16,734.68 L651.77,734.50 L650.17,730.17 L654.50,731.77 L654.68,727.16 L658.07,730.29 Z" fill="#1a1a1c"/><circle cx="660" cy="740" r="4.3" fill="#e2e1e6"/>
<path d="M700.00,726.10 L701.93,730.29 L705.32,727.16 L705.50,731.77 L709.83,730.17 L708.23,734.50 L712.84,734.68 L709.71,738.07 L713.90,740.00 L709.71,741.93 L712.84,745.32 L708.23,745.50 L709.83,749.83 L705.50,748.23 L705.32,752.84 L701.93,749.71 L700.00,753.90 L698.07,749.71 L694.68,752.84 L694.50,748.23 L690.17,749.83 L691.77,745.50 L687.16,745.32 L690.29,741.93 L686.10,740.00 L690.29,738.07 L687.16,734.68 L691.77,734.50 L690.17,730.17 L694.50,731.77 L694.68,727.16 L698.07,730.29 Z" fill="#1a1a1c"/><circle cx="700" cy="740" r="4.3" fill="#e2e1e6"/>
<path d="M660.00,886.10 L661.93,890.29 L665.32,887.16 L665.50,891.77 L669.83,890.17 L668.23,894.50 L672.84,894.68 L669.71,898.07 L673.90,900.00 L669.71,901.93 L672.84,905.32 L668.23,905.50 L669.83,909.83 L665.50,908.23 L665.32,912.84 L661.93,909.71 L660.00,913.90 L658.07,909.71 L654.68,912.84 L654.50,908.23 L650.17,909.83 L651.77,905.50 L647.16,905.32 L650.29,901.93 L646.10,900.00 L650.29,898.07 L647.16,894.68 L651.77,894.50 L650.17,890.17 L654.50,891.77 L654.68,887.16 L658.07,890.29 Z" fill="#1a1a1c"/><circle cx="660" cy="900" r="4.3" fill="#e2e1e6"/>
<circle cx="1220" cy="500" r="6.4" fill="url(#gcoin)" stroke="#141218" stroke-width="3"/>
<circle cx="660" cy="820" r="6.4" fill="url(#gcoin)" stroke="#141218" stroke-width="3"/>
<circle cx="1220" cy="100" r="13.6" fill="url(#gbomb)" stroke="#141414" stroke-width="2.6"/><ellipse cx="1214" cy="92" rx="5" ry="3" fill="#fff" opacity="0.9" transform="rotate(-25 1214 92)"/><path d="M1228,89 L1232.5,86.5" stroke="#141414" stroke-width="2.4" stroke-linecap="round"/><circle cx="1233.6" cy="85.6" r="2.1" fill="#f39a1c"/>
<circle cx="660" cy="1220" r="13.6" fill="url(#gbomb)" stroke="#141414" stroke-width="2.6"/><ellipse cx="654" cy="1212" rx="5" ry="3" fill="#fff" opacity="0.9" transform="rotate(-25 654 1212)"/><path d="M668,1209 L672.5,1206.5" stroke="#141414" stroke-width="2.4" stroke-linecap="round"/><circle cx="673.6" cy="1205.6" r="2.1" fill="#f39a1c"/>
<defs><linearGradient id="ay1" gradientUnits="userSpaceOnUse" x1="1006" y1="246" x2="1034" y2="274"><stop offset="0" stop-color="#f8da16"/><stop offset="1" stop-color="#f8982a"/></linearGradient></defs><circle cx="1020" cy="260" r="12" fill="#e9e8ee" opacity="0.8"/><path d="M1017.00,257.00 L1017.00,249.00 L1015.20,249.00 L1020.00,243.80 L1024.80,249.00 L1023.00,249.00 L1023.00,257.00 L1023.00,257.00 L1031.00,257.00 L1031.00,255.20 L1036.20,260.00 L1031.00,264.80 L1031.00,263.00 L1023.00,263.00 L1023.00,263.00 L1023.00,271.00 L1024.80,271.00 L1020.00,276.20 L1015.20,271.00 L1017.00,271.00 L1017.00,263.00 L1017.00,263.00 L1009.00,263.00 L1009.00,264.80 L1003.80,260.00 L1009.00,255.20 L1009.00,257.00 L1017.00,257.00 Z" fill="url(#ay1)" stroke="url(#ay1)" stroke-width="0.8" stroke-linejoin="round"/>
<defs><linearGradient id="ay2" gradientUnits="userSpaceOnUse" x1="846" y1="1046" x2="874" y2="1074"><stop offset="0" stop-color="#f8da16"/><stop offset="1" stop-color="#f8982a"/></linearGradient></defs><circle cx="860" cy="1060" r="12" fill="#e9e8ee" opacity="0.8"/><path d="M857.00,1057.00 L857.00,1049.00 L855.20,1049.00 L860.00,1043.80 L864.80,1049.00 L863.00,1049.00 L863.00,1057.00 L863.00,1057.00 L871.00,1057.00 L871.00,1055.20 L876.20,1060.00 L871.00,1064.80 L871.00,1063.00 L863.00,1063.00 L863.00,1063.00 L863.00,1071.00 L864.80,1071.00 L860.00,1076.20 L855.20,1071.00 L857.00,1071.00 L857.00,1063.00 L857.00,1063.00 L849.00,1063.00 L849.00,1064.80 L843.80,1060.00 L849.00,1055.20 L849.00,1057.00 L857.00,1057.00 Z" fill="url(#ay2)" stroke="url(#ay2)" stroke-width="0.8" stroke-linejoin="round"/>
<defs><linearGradient id="ao1" gradientUnits="userSpaceOnUse" x1="1406" y1="246" x2="1434" y2="274"><stop offset="0" stop-color="#f04438"/><stop offset="1" stop-color="#f8902a"/></linearGradient></defs><circle cx="1420" cy="260" r="12" fill="#e9e8ee" opacity="0.8"/><path d="M1417.00,257.00 L1417.00,249.00 L1415.20,249.00 L1420.00,243.80 L1424.80,249.00 L1423.00,249.00 L1423.00,257.00 L1423.00,257.00 L1431.00,257.00 L1431.00,255.20 L1436.20,260.00 L1431.00,264.80 L1431.00,263.00 L1423.00,263.00 L1423.00,263.00 L1423.00,271.00 L1424.80,271.00 L1420.00,276.20 L1415.20,271.00 L1417.00,271.00 L1417.00,263.00 L1417.00,263.00 L1409.00,263.00 L1409.00,264.80 L1403.80,260.00 L1409.00,255.20 L1409.00,257.00 L1417.00,257.00 Z" fill="url(#ao1)" stroke="url(#ao1)" stroke-width="0.8" stroke-linejoin="round"/>
<defs><linearGradient id="at1" gradientUnits="userSpaceOnUse" x1="446" y1="1046" x2="474" y2="1074"><stop offset="0" stop-color="#3a98d8"/><stop offset="1" stop-color="#3ed48a"/></linearGradient></defs><circle cx="460" cy="1060" r="12" fill="#e9e8ee" opacity="0.8"/><path d="M457.00,1057.00 L457.00,1049.00 L455.20,1049.00 L460.00,1043.80 L464.80,1049.00 L463.00,1049.00 L463.00,1057.00 L463.00,1057.00 L471.00,1057.00 L471.00,1055.20 L476.20,1060.00 L471.00,1064.80 L471.00,1063.00 L463.00,1063.00 L463.00,1063.00 L463.00,1071.00 L464.80,1071.00 L460.00,1076.20 L455.20,1071.00 L457.00,1071.00 L457.00,1063.00 L457.00,1063.00 L449.00,1063.00 L449.00,1064.80 L443.80,1060.00 L449.00,1055.20 L449.00,1057.00 L457.00,1057.00 Z" fill="url(#at1)" stroke="url(#at1)" stroke-width="0.8" stroke-linejoin="round"/>
<path d="M922,678.5 L928.5,647" stroke="#111" stroke-width="2.3" stroke-linecap="round"/><circle cx="928.6" cy="646.5" r="2.6" fill="#111"/><path d="M929.5,649 C935,646.5 942,647.5 946,652.5 C948.5,657 950.5,661.5 958,663.2 C955,666.5 950,669.5 946.5,668.5 C943.5,667 942.5,663.5 940.5,662 C936.5,659.5 932.5,659.2 929.5,660 Z" fill="#e8e01c" stroke="#111" stroke-width="1.8" stroke-linejoin="round"/><path d="M945.5,663.5 C948.5,664.5 951.5,664.5 955.5,663.8 C953,666.5 949.5,668 946.8,667.2 Z" fill="#f2a020"/>
</svg></body></html>
